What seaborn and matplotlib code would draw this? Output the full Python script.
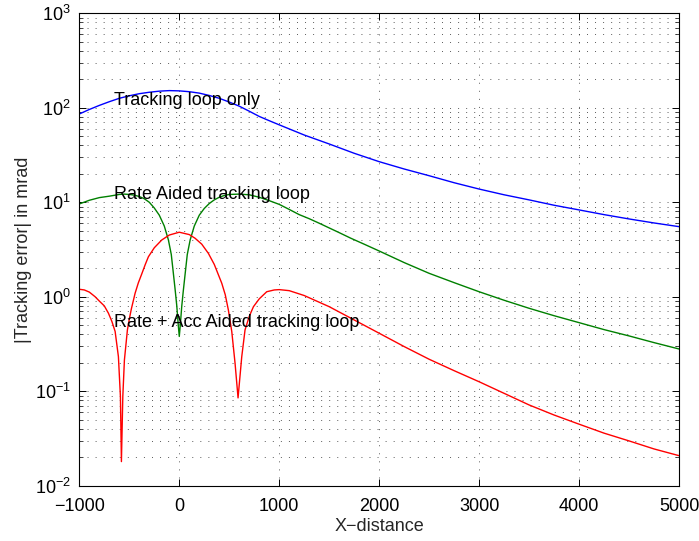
import matplotlib
matplotlib.use("Agg")
import matplotlib.pyplot as plt
import matplotlib.ticker as mticker
import numpy as np
import pandas as pd
import seaborn as sns

# ---- data ----
blue_x = [-1000, -900, -800, -700, -600, -500, -400, -300, -200, -100, 0, 100, 200,
          300, 400, 500, 600, 700, 800, 900, 1000, 1250, 1500, 1750, 2000, 2250,
          2500, 2750, 3000, 3250, 3500, 3750, 4000, 4250, 4500, 4750, 5000]
blue_y = [86, 96, 106, 116, 126, 134, 141, 146, 150, 152, 151, 148, 143,
          135, 126, 115, 104, 92, 81, 73, 66, 51.5, 41.4, 33.0, 26.9, 22.5,
          19.1, 16.1, 13.8, 12.0, 10.6, 9.3, 8.3, 7.4, 6.66, 6.04, 5.52]

green_x = [-1000, -900, -800, -700, -600, -550, -500, -450, -400, -350, -300, -250,
           -200, -150, -109, -80, -60, -40, -25, -10, 0, 10, 25, 40, 60, 80, 109,
           150, 200, 250, 300, 350, 400, 450, 500, 600, 700, 800, 900, 1000, 1100,
           1200, 1300, 1400, 1500, 1600, 1717, 1850, 2000, 2250, 2500, 2750, 3000,
           3250, 3500, 3750, 4000, 4250, 4500, 4750, 5000]
green_y = [9.6, 10.5, 11.2, 11.6, 12.1, 12.2, 12.1, 11.9, 11.5, 10.9, 10.0, 8.7,
           7.3, 5.6, 4.0, 2.8, 1.8, 1.15, 0.8, 0.5, 0.38, 0.5, 0.8, 1.15, 1.8, 2.8, 4.0,
           5.6, 7.3, 8.6, 9.7, 10.6, 11.3, 11.8, 12.1, 12.2, 12.0, 11.3, 10.4, 9.5, 8.4,
           7.4, 6.7, 6.0, 5.35, 4.77, 4.16, 3.6, 3.05, 2.30, 1.77, 1.41, 1.13,
           0.918, 0.755, 0.63, 0.532, 0.449, 0.385, 0.327, 0.28]

red_x = [-1000, -950, -900, -842, -800, -750, -709, -675, -642, -609, -589, -579,
         -565, -549, -519, -500, -480, -442, -410, -375, -340, -309, -250, -175,
         -100, 0, 100, 158, 225, 291, 350, 425, 460, 491, 525, 558, 588, 625, 658,
         700, 742, 800, 875, 950, 1000, 1100, 1250, 1500, 1750, 2000, 2250, 2500,
         2750, 3000, 3250, 3500, 3750, 4000, 4250, 4500, 4750, 5000]
red_y = [1.2, 1.18, 1.12, 1.0, 0.9, 0.8, 0.67, 0.55, 0.43, 0.232, 0.088, 0.018,
         0.088, 0.214, 0.446, 0.58, 0.74, 1.09, 1.4, 1.75, 2.2, 2.65, 3.3, 3.99,
         4.5, 4.82, 4.55, 4.16, 3.6, 2.88, 2.2, 1.39, 1.05, 0.725, 0.43, 0.198, 0.085,
         0.232, 0.446, 0.62, 0.785, 0.95, 1.13, 1.18, 1.19, 1.16, 1.03, 0.785, 0.568,
         0.411, 0.297, 0.218, 0.165, 0.126, 0.095, 0.0716, 0.056, 0.0448, 0.036,
         0.0298, 0.0245, 0.0208]

series_names = ["Tracking loop only", "Rate Aided tracking loop",
                "Rate + Acc Aided tracking loop"]
label_x = [-650, -650, -650]
label_y = [118, 12, 0.53]
colors = ["#0000ff", "#008000", "#ff0000"]

frames = []
for name, xs, ys in zip(series_names, [blue_x, green_x, red_x], [blue_y, green_y, red_y]):
    frames.append(pd.DataFrame({"x": xs, "y": ys, "series": name}))
df = pd.concat(frames, ignore_index=True)

# ---- styling ----
sns.set_style("white")
plt.rcParams["font.family"] = ["Liberation Sans", "DejaVu Sans"]
plt.rcParams["mathtext.default"] = "regular"
plt.rcParams["lines.scale_dashes"] = False

fig = plt.figure(figsize=(6.99, 5.41), dpi=100)
ax = fig.add_axes([0.1135, 0.1022, 0.9714 - 0.1135, 0.9754 - 0.1022])

sns.lineplot(data=df, x="x", y="y", hue="series", palette=dict(zip(series_names, colors)),
             estimator=None, sort=False, legend=False, linewidth=1.0, ax=ax)

ax.set_yscale("log")
ax.set_xlim(-1000, 5000)
ax.set_ylim(1e-2, 1e3)
ax.set_xticks([-1000, 0, 1000, 2000, 3000, 4000, 5000])
ax.yaxis.set_major_locator(mticker.LogLocator(base=10, numticks=10))
ax.yaxis.set_minor_locator(mticker.LogLocator(base=10, subs=np.arange(2, 10), numticks=20))
ax.yaxis.set_minor_formatter(mticker.NullFormatter())

grid_kw = dict(color="black", linewidth=0.6, linestyle=(0, (0.7, 5.1)), alpha=0.75)
ax.grid(True, which="major", axis="both", **grid_kw)
ax.grid(True, which="minor", axis="y", **grid_kw)
ax.set_axisbelow(True)

for s in ax.spines.values():
    s.set_visible(True)
    s.set_color("black")
    s.set_linewidth(0.8)

ax.tick_params(which="major", direction="in", length=5, width=0.7,
               bottom=True, left=True, top=True, right=True,
               labelsize=13, colors="black")
ax.tick_params(axis="x", which="major", pad=9)
ax.tick_params(axis="y", which="major", pad=6)
ax.tick_params(which="minor", direction="in", length=3, width=0.6, left=True, right=True,
               top=False, bottom=False)

for name, lx, ly in zip(series_names, label_x, label_y):
    ax.text(lx, ly, name, fontsize=13, va="center", ha="left", color="black")

ax.set_xlabel("X\u2212distance", fontsize=13, labelpad=2)
ax.set_ylabel("|Tracking error| in mrad", fontsize=13, labelpad=2)

fig.savefig("out.png", dpi=100)
